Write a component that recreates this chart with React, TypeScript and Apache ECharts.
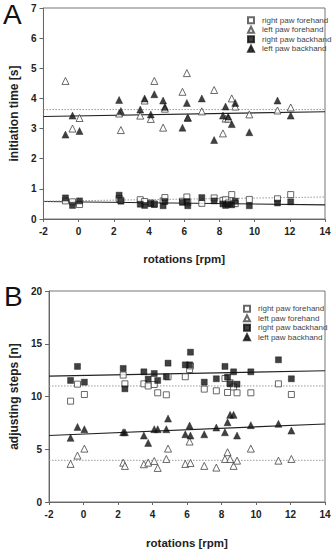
import React, { useEffect, useRef } from "react";
import * as echarts from "echarts";

// shared x positions (rotations, rpm)
const rotations = [-0.75, -0.35, 0.05, 2.3, 2.4, 3.5, 3.75, 4.1, 4.3, 4.8, 4.9, 5.9, 6.15, 6.2, 7.0, 7.7, 8.2, 8.35, 8.5, 8.7, 8.9, 9.7, 11.3, 12.05];

// Panel A: initiation time [s]
const initRightFore = [0.6, 0.57, 0.48, 0.68, 0.62, 0.64, 0.58, 0.53, 0.5, 0.6, 0.71, 0.59, 0.73, 0.54, 0.52, 0.7, 0.62, 0.64, 0.53, 0.81, 0.51, 0.65, 0.67, 0.81];
const initLeftFore = [4.58, 3.0, 3.35, 3.5, 2.95, 3.43, 3.93, 3.32, 4.58, 3.03, 3.66, 4.22, 4.84, 3.36, 3.57, 4.28, 2.84, 3.33, 3.33, 4.0, 3.73, 3.47, 3.6, 3.7];
const initRightBack = [0.7, 0.45, 0.6, 0.79, 0.59, 0.49, 0.45, 0.51, 0.48, 0.44, 0.58, 0.55, 0.58, 0.44, 0.71, 0.6, 0.5, 0.45, 0.49, 0.47, 0.59, 0.44, 0.53, 0.57];
const initLeftBack = [2.8, 3.43, 2.92, 3.95, 3.58, 3.63, 4.0, 3.47, 4.14, 3.93, 3.72, 3.03, 3.85, 3.36, 4.0, 2.62, 3.43, 3.73, 3.4, 3.15, 3.85, 2.88, 3.93, 3.43];

// Panel B: adjusting steps [n]
const stepsRightFore = [9.56, 11.17, 10.19, 12.03, 11.2, 11.2, 11.0, 11.14, 10.35, 10.16, 11.87, 11.87, 12.56, 12.9, 10.7, 10.54, 11.71, 10.38, 11.3, 10.9, 10.35, 10.35, 11.2, 10.19];
const stepsLeftFore = [3.61, 4.4, 5.06, 3.73, 3.42, 3.58, 3.73, 3.89, 3.23, 4.08, 5.06, 3.61, 5.73, 3.7, 3.42, 3.26, 4.08, 4.72, 4.08, 3.42, 3.92, 5.06, 3.92, 4.08];
const stepsRightBack = [11.52, 12.85, 11.36, 12.66, 10.73, 12.34, 11.65, 12.18, 11.52, 11.87, 13.16, 13.0, 13.0, 14.2, 11.36, 11.68, 12.85, 11.84, 11.2, 12.34, 11.17, 12.34, 13.48, 11.68];
const stepsLeftBack = [6.08, 7.12, 6.9, 6.61, 6.61, 6.3, 5.6, 6.9, 6.9, 6.9, 7.91, 6.42, 7.25, 6.3, 6.42, 7.06, 6.61, 7.56, 8.26, 8.26, 6.3, 7.28, 7.41, 6.77];

// regression line end values (at x = -2 and x = 14)
const fitX = [-2, 14];
const initBackUpper = [3.4, 3.56];
const initForeUpper = [3.63, 3.63];
const initBackLower = [0.58, 0.47];
const initForeLower = [0.59, 0.73];
const stepsBackUpper = [11.93, 12.44];
const stepsForeUpper = [11.0, 11.0];
const stepsBackLower = [6.3, 7.4];
const stepsForeLower = [3.95, 3.95];

const seriesNames = ["right paw forehand", "left paw forehand", "right paw backhand", "left paw backhand"];
const panelTitles = ["initiation time [s]", "adjusting steps [n]"];
const xTitle = "rotations [rpm]";
const panelLetters = ["A", "B"];

const FONT = "'Liberation Sans', Arial, sans-serif";

export default function App() {
  const ref = useRef<HTMLDivElement>(null);
  useEffect(() => {
    if (!ref.current) return;
    const chart = echarts.init(ref.current, undefined, { renderer: "svg" });
    const pts = (ys: number[]) => rotations.map((x, i) => [x, ys[i]]);
    const fit = (ys: number[]) => fitX.map((x, i) => [x, ys[i]]);
    const styles = [
      { symbol: "rect", symbolSize: 6, itemStyle: { color: "#fff", borderColor: "#444", borderWidth: 1 } },
      { symbol: "triangle", symbolSize: 7, itemStyle: { color: "#fff", borderColor: "#444", borderWidth: 1 } },
      { symbol: "rect", symbolSize: 6, itemStyle: { color: "#111", borderColor: "#111", borderWidth: 0.5 } },
      { symbol: "triangle", symbolSize: 7, itemStyle: { color: "#111", borderColor: "#111", borderWidth: 0.5 } },
    ];
    const panels = [
      [initRightFore, initLeftFore, initRightBack, initLeftBack],
      [stepsRightFore, stepsLeftFore, stepsRightBack, stepsLeftBack],
    ];
    const fits = [
      [initBackUpper, initForeUpper, initBackLower, initForeLower],
      [stepsBackUpper, stepsForeUpper, stepsBackLower, stepsForeLower],
    ];
    const series: any[] = [];
    panels.forEach((p, gi) => {
      fits[gi].forEach((f, k) => {
        const solid = k % 2 === 0;
        series.push({
          type: "line",
          xAxisIndex: gi,
          yAxisIndex: gi,
          data: fit(f),
          symbol: "none",
          silent: true,
          z: 1,
          lineStyle: solid
            ? { color: "#222", width: 1.1, type: "solid" }
            : { color: "#999", width: 1, type: [1.5, 1.5] },
        });
      });
      p.forEach((ys, k) => {
        series.push({
          type: "scatter",
          name: seriesNames[k],
          xAxisIndex: gi,
          yAxisIndex: gi,
          data: pts(ys),
          z: 3,
          ...styles[k],
        });
      });
    });
    const grids = [
      { left: 43, width: 282, top: 8, height: 211 },
      { left: 43, width: 282, top: 291, height: 211 },
    ];
    const axisCommon = {
      axisLine: { show: true, onZero: false, lineStyle: { color: "#666", width: 1 } },
      axisTick: { show: true, length: 3, lineStyle: { color: "#666" } },
      splitLine: { show: false },
      axisLabel: { fontFamily: FONT, fontWeight: "bold", fontSize: 10, color: "#222" },
    };
    const legendCommon = {
      orient: "vertical",
      data: seriesNames,
      itemWidth: 6,
      itemHeight: 6,
      itemGap: 1,
      textStyle: { fontFamily: FONT, fontSize: 8, color: "#444", lineHeight: 8.5, padding: [0, 0, 0, 3] },
      selectedMode: false,
    };
    chart.setOption({
      animation: false,
      backgroundColor: "#fff",
      grid: grids.map((g) => ({ ...g, show: true, borderColor: "#777", borderWidth: 1, backgroundColor: "transparent" })),
      xAxis: [0, 1].map((gi) => ({
        type: "value",
        gridIndex: gi,
        min: -2,
        max: 14,
        interval: 2,
        name: xTitle,
        nameLocation: "middle",
        nameGap: gi === 0 ? 34 : 35,
        nameTextStyle: { fontFamily: FONT, fontWeight: "bold", fontSize: 11.5, color: "#222" },
        ...axisCommon,
        axisLabel: { ...axisCommon.axisLabel, margin: 7 },
      })),
      yAxis: [0, 1].map((gi) => ({
        type: "value",
        gridIndex: gi,
        min: 0,
        max: gi === 0 ? 7 : 20,
        interval: gi === 0 ? 1 : 5,
        name: panelTitles[gi],
        nameLocation: "middle",
        nameGap: 18,
        nameTextStyle: { fontFamily: FONT, fontWeight: "bold", fontSize: 12, color: "#222" },
        ...axisCommon,
        axisTick: { show: true, length: 4, lineStyle: { color: "#666" } },
        axisLabel: { ...axisCommon.axisLabel, margin: 7 },
      })),
      legend: [
        { ...legendCommon, left: 242, top: 11 },
        { ...legendCommon, left: 238, top: 299.5 },
      ],
      graphic: [
        { type: "text", left: 3, top: 0, style: { text: panelLetters[0], font: `28px ${FONT}`, fill: "#111" } },
        { type: "text", left: 4, top: 282, style: { text: panelLetters[1], font: `28px ${FONT}`, fill: "#111" } },
      ],
      series,
    });
    return () => chart.dispose();
  }, []);
  return <div ref={ref} style={{ position: "absolute", left: 0, top: 0, width: 335, height: 550 }} />;
}
